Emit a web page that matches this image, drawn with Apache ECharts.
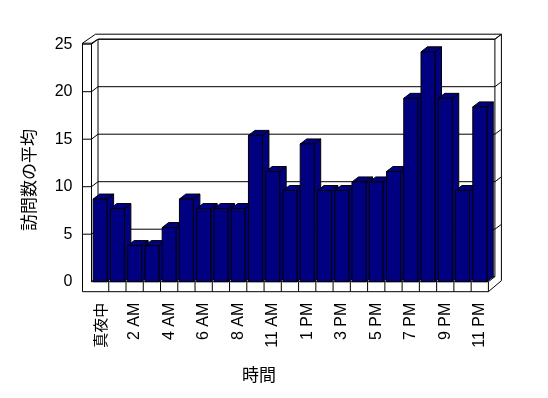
<!DOCTYPE html>
<html><head><meta charset="utf-8">
<script src="https://cdn.jsdelivr.net/npm/echarts@6/dist/echarts.min.js"></script>
<style>html,body{margin:0;padding:0;background:#fff}#c{width:548px;height:398px}</style>
</head><body><div id="c"></div>
<script>
// ---- data ----
const hours = ['真夜中','1 AM','2 AM','3 AM','4 AM','5 AM','6 AM','7 AM','8 AM','10 AM','11 AM','正午',
               '1 PM','2 PM','3 PM','4 PM','5 PM','6 PM','7 PM','8 PM','9 PM','10 PM','11 PM'];
const visits = [8.7,7.7,3.8,3.8,5.7,8.7,7.7,7.7,7.7,15.4,11.6,9.6,14.5,9.6,9.6,10.5,10.5,11.6,19.3,24.2,19.3,9.6,18.4];
const yTicks = [0,5,10,15,20,25];
const xTitle = '時間';
const yTitle = '訪問数の平均';

// ---- layout ----
const GL = 91.5, GR = 488.4, GT = 44.2, GB = 281.7;
const DX = 6.5, DY = -5;       // depth of floor / bars
const WT = 9;                  // left wall thickness
const FRONT = '#000080', TOP = '#000080', SIDE = '#000080';

const chart = echarts.init(document.getElementById('c'), null, {renderer:'canvas'});

function renderItem(params, api) {
  const i = api.value(0), v = api.value(1);
  const base = api.coord([i, 0]);
  const top = api.coord([i, v]);
  const band = api.size([1, 0])[0];
  const w = band * 0.81;
  const x0 = base[0] - w / 2, x1 = x0 + w, y0 = base[1], y1 = top[1];
  const st = f => ({fill: f, stroke: '#000', lineWidth: 1});
  return {type: 'group', children: [
    {type: 'polygon', shape: {points: [[x1, y1], [x1 + DX, y1 + DY], [x1 + DX, y0 + DY], [x1, y0]]}, style: st(SIDE)},
    {type: 'polygon', shape: {points: [[x0, y1], [x0 + DX, y1 + DY], [x1 + DX, y1 + DY], [x1, y1]]}, style: st(TOP)},
    {type: 'rect', shape: {x: x0, y: y1, width: w, height: y0 - y1}, style: st(FRONT)}
  ]};
}

chart.setOption({
  animation: false,
  backgroundColor: '#fff',
  grid: {left: GL, right: 548 - GR, top: GT, bottom: 398 - GB},
  xAxis: {
    type: 'category', data: hours,
    axisLine: {show: false}, axisTick: {show: false}, splitLine: {show: false},
    axisLabel: {
      rotate: 90, interval: 1, margin: 21, color: '#000',
      fontFamily: "'Liberation Sans','Noto Sans CJK JP'", fontSize: 16,
      formatter: v => /[^\x00-\x7f]/.test(v) ? '{c|' + v + '}' : v,
      rich: {c: {fontFamily: "'Noto Sans CJK JP'", fontSize: 15, color: '#000'}}
    }
  },
  yAxis: {
    type: 'value', min: 0, max: 25, interval: 5,
    axisLine: {show: false}, axisTick: {show: false}, splitLine: {show: false},
    axisLabel: {margin: 19, color: '#000', fontFamily: "'Liberation Sans'", fontSize: 16}
  },
  series: [{
    type: 'custom', renderItem: renderItem, z: 5,
    encode: {x: 0, y: 1},
    data: visits.map((v, i) => [i, v])
  }]
});

// ---- frame (walls, floor, gridlines) from the axes' own scales ----
const els = [];
function ln(x1, y1, x2, y2, z) {
  els.push({type: 'line', z: z || 1, silent: true,
    shape: {x1: x1, y1: y1, x2: x2, y2: y2}, style: {stroke: '#000', lineWidth: 1}});
}
yTicks.forEach(v => {
  const fy = chart.convertToPixel({yAxisIndex: 0}, v);
  ln(GL + DX, fy + DY, GR + DX, fy + DY);
  ln(GL, fy, GL + DX, fy + DY);
  if (v !== 0) {
    ln(GL - WT, fy, GL, fy);
    ln(GR + DX, fy + DY, GR + DX + 6, fy + DY - 4.5);
  }
});
// left wall
ln(GL - WT, GT - 1, GL - WT, GB + 10);
ln(GL, GT - 1, GL, GB);
ln(GL - WT, GT - 1, GL, GT - 1);
ln(GL - WT, GT - 1, GL + 4, GT - 10);
ln(GL, GT - 1, GL + DX, GT + DY);
// back wall
ln(GL + DX, GT + DY, GL + DX, GB + DY);
ln(GL + DX, GT + DY, GR + DX, GT + DY);
ln(GL + 4, GT - 10, GR + 13, GT - 10);
ln(GR + DX, GT + DY, GR + 13, GT - 10);
ln(GR + DX, GT + DY, GR + DX, GB + DY);
ln(GR + 13, GT - 10, GR + 13, GB - 1);
// floor
ln(GL, GB, GR, GB, 6);
ln(GL - WT, GB + 10, GR, GB + 10, 6);
ln(GR, GB, GR, GB + 10, 6);
ln(GR, GB, GR + DX, GB + DY, 1);
ln(GR, GB + 10, GR + 13, GB - 1, 6);
const n = hours.length;
const band = (GR - GL) / n;
for (let k = 1; k < n; k++) {
  const cx = chart.convertToPixel({xAxisIndex: 0}, k);
  const bx = cx - band / 2;
  ln(bx, GB, bx, GB + 10, 6);
}
// axis titles
els.push({type: 'text', x: 259, y: 375, z: 6,
  style: {text: xTitle, fontFamily: "'Noto Sans CJK JP'", fontSize: 17, fill: '#000', align: 'center', verticalAlign: 'middle'}});
els.push({type: 'text', x: 29, y: 180, rotation: Math.PI / 2, z: 6,
  style: {text: yTitle, fontFamily: "'Noto Sans CJK JP'", fontSize: 17, fill: '#000', align: 'center', verticalAlign: 'middle'}});

chart.setOption({graphic: {elements: els}});
</script>
</body></html>
